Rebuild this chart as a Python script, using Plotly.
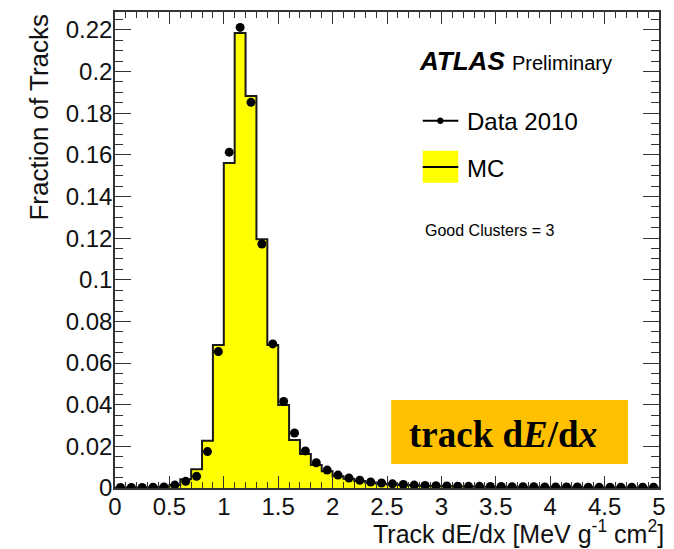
import plotly.graph_objects as go

# ---- data ----
bin_edges = [round(i * 0.1, 1) for i in range(51)]
bin_centers = [round(0.05 + i * 0.1, 2) for i in range(50)]

mc_values = [
    0.0002, 0.0002, 0.0003, 0.0004, 0.0006, 0.0015, 0.0042, 0.0090, 0.0227, 0.0687,
    0.1561, 0.2185, 0.1883, 0.1195, 0.0687, 0.0399, 0.0231, 0.0163, 0.0110, 0.0080,
    0.0057, 0.0044, 0.0034, 0.0027, 0.0021, 0.0017, 0.0014, 0.0012, 0.0010, 0.0009,
    0.0008, 0.0007, 0.0007, 0.0006, 0.0006, 0.0005, 0.0005, 0.0005, 0.0004, 0.0004,
    0.0004, 0.0004, 0.0003, 0.0003, 0.0003, 0.0003, 0.0003, 0.0003, 0.0003, 0.0003,
]

data_values = [
    0.0003, 0.0003, 0.0003, 0.0004, 0.0005, 0.0014, 0.0032, 0.0056, 0.0175, 0.0655,
    0.1613, 0.2212, 0.1852, 0.1172, 0.0692, 0.0416, 0.0264, 0.0178, 0.0121, 0.0086,
    0.0062, 0.0048, 0.0037, 0.0029, 0.0024, 0.0020, 0.0017, 0.0014, 0.0012, 0.0011,
    0.0010, 0.0009, 0.0008, 0.0008, 0.0007, 0.0007, 0.0006, 0.0006, 0.0006, 0.0005,
    0.0005, 0.0005, 0.0005, 0.0004, 0.0004, 0.0004, 0.0004, 0.0004, 0.0004, 0.0004,
]

x_tickvals = [0, 0.5, 1, 1.5, 2, 2.5, 3, 3.5, 4, 4.5, 5]
x_ticktext = ["0", "0.5", "1", "1.5", "2", "2.5", "3", "3.5", "4", "4.5", "5"]
y_tickvals = [0, 0.02, 0.04, 0.06, 0.08, 0.1, 0.12, 0.14, 0.16, 0.18, 0.2, 0.22]
y_ticktext = ["0", "0.02", "0.04", "0.06", "0.08", "0.1", "0.12", "0.14", "0.16", "0.18", "0.2", "0.22"]

SANS = "Liberation Sans, Arial, Helvetica, sans-serif"
SERIF = "Liberation Serif, Times New Roman, serif"
FRAME = "#333333"

fig = go.Figure()

fig.add_trace(go.Scatter(
    x=bin_edges, y=mc_values + [mc_values[-1]],
    mode="lines", line=dict(shape="hv", color="#1a1a1a", width=2),
    fill="tozeroy", fillcolor="#FFFF00", name="MC", showlegend=False,
))

fig.add_trace(go.Scatter(
    x=bin_centers, y=data_values, mode="markers",
    marker=dict(symbol="circle", size=9, color="black"),
    name="Data 2010", showlegend=False,
))

fig.update_xaxes(
    range=[0, 5], tickmode="array", tickvals=x_tickvals, ticktext=x_ticktext,
    ticks="inside", ticklen=12, tickwidth=1, tickcolor=FRAME,
    showline=True, linecolor=FRAME, linewidth=1.5, mirror="ticks",
    showgrid=False, zeroline=False, ticklabelstandoff=-4,
    tickfont=dict(family=SANS, size=24, color="#111"),
    minor=dict(tick0=0, dtick=0.1, ticks="inside", ticklen=6, tickcolor=FRAME, showgrid=False),
)
fig.update_yaxes(
    range=[0, 0.2286], tickmode="array", tickvals=y_tickvals, ticktext=y_ticktext,
    ticks="inside", ticklen=16, tickwidth=1, tickcolor=FRAME,
    showline=True, linecolor=FRAME, linewidth=1.5, mirror="ticks",
    showgrid=False, zeroline=False, ticklabelstandoff=-4,
    tickfont=dict(family=SANS, size=24, color="#111"),
    minor=dict(tick0=0, dtick=0.005, ticks="inside", ticklen=8, tickcolor=FRAME, showgrid=False),
)

shapes = [
    # legend: Data 2010 icon
    dict(type="line", xref="paper", yref="paper", x0=0.5657, x1=0.631, y0=0.7716, y1=0.7716,
         line=dict(color="black", width=2)),
    dict(type="circle", xref="paper", yref="paper", x0=0.5925, x1=0.6035, y0=0.7646, y1=0.7786,
         fillcolor="black", line=dict(color="black", width=0)),
    # legend: MC icon
    dict(type="rect", xref="paper", yref="paper", x0=0.5657, x1=0.631, y0=0.6414, y1=0.7086,
         fillcolor="#FFFF00", line=dict(width=0)),
    dict(type="line", xref="paper", yref="paper", x0=0.5657, x1=0.631, y0=0.6744, y1=0.6744,
         line=dict(color="black", width=2)),
    # orange label box
    dict(type="rect", xref="paper", yref="paper", x0=0.5077, x1=0.9429, y0=0.0504, y1=0.1849,
         fillcolor="#FFC000", line=dict(width=0), layer="above"),
]

annotations = [
    dict(text="<b><i>ATLAS</i></b>", x=0.5543, y=0.8977, xref="paper", yref="paper",
         xanchor="left", yanchor="middle", showarrow=False,
         font=dict(family=SANS, size=26, color="black")),
    dict(text="Preliminary", x=0.7253, y=0.893, xref="paper", yref="paper",
         xanchor="left", yanchor="middle", showarrow=False,
         font=dict(family=SANS, size=20, color="black")),
    dict(text="Data 2010", x=0.6437, y=0.771, xref="paper", yref="paper",
         xanchor="left", yanchor="middle", showarrow=False,
         font=dict(family=SANS, size=24, color="black")),
    dict(text="MC", x=0.6437, y=0.672, xref="paper", yref="paper",
         xanchor="left", yanchor="middle", showarrow=False,
         font=dict(family=SANS, size=24, color="black")),
    dict(text="Good Clusters = 3", x=0.5657, y=0.542, xref="paper", yref="paper",
         xanchor="left", yanchor="middle", showarrow=False,
         font=dict(family=SANS, size=16, color="black")),
    dict(text="<b>track d<i>E</i>/d<i>x</i></b>", x=0.7135, y=0.1134, xref="paper", yref="paper",
         xanchor="center", yanchor="middle", showarrow=False,
         font=dict(family=SERIF, size=37, color="black")),
    dict(text="Fraction of Tracks", x=-0.1414, y=1.0, xref="paper", yref="paper",
         xanchor="center", yanchor="top", textangle=-90, showarrow=False,
         font=dict(family=SANS, size=26, color="#111")),
    dict(text="Track dE/dx [MeV g<sup>-1</sup> cm<sup>2</sup>]", x=1.012, y=-0.092,
         xref="paper", yref="paper", xanchor="right", yanchor="middle", showarrow=False,
         font=dict(family=SANS, size=25, color="#111")),
]

fig.update_layout(
    width=674, height=549,
    margin=dict(l=115, r=8, t=12, b=61),
    paper_bgcolor="white", plot_bgcolor="white",
    showlegend=False,
    shapes=shapes, annotations=annotations,
)

fig.write_html("out.html")
